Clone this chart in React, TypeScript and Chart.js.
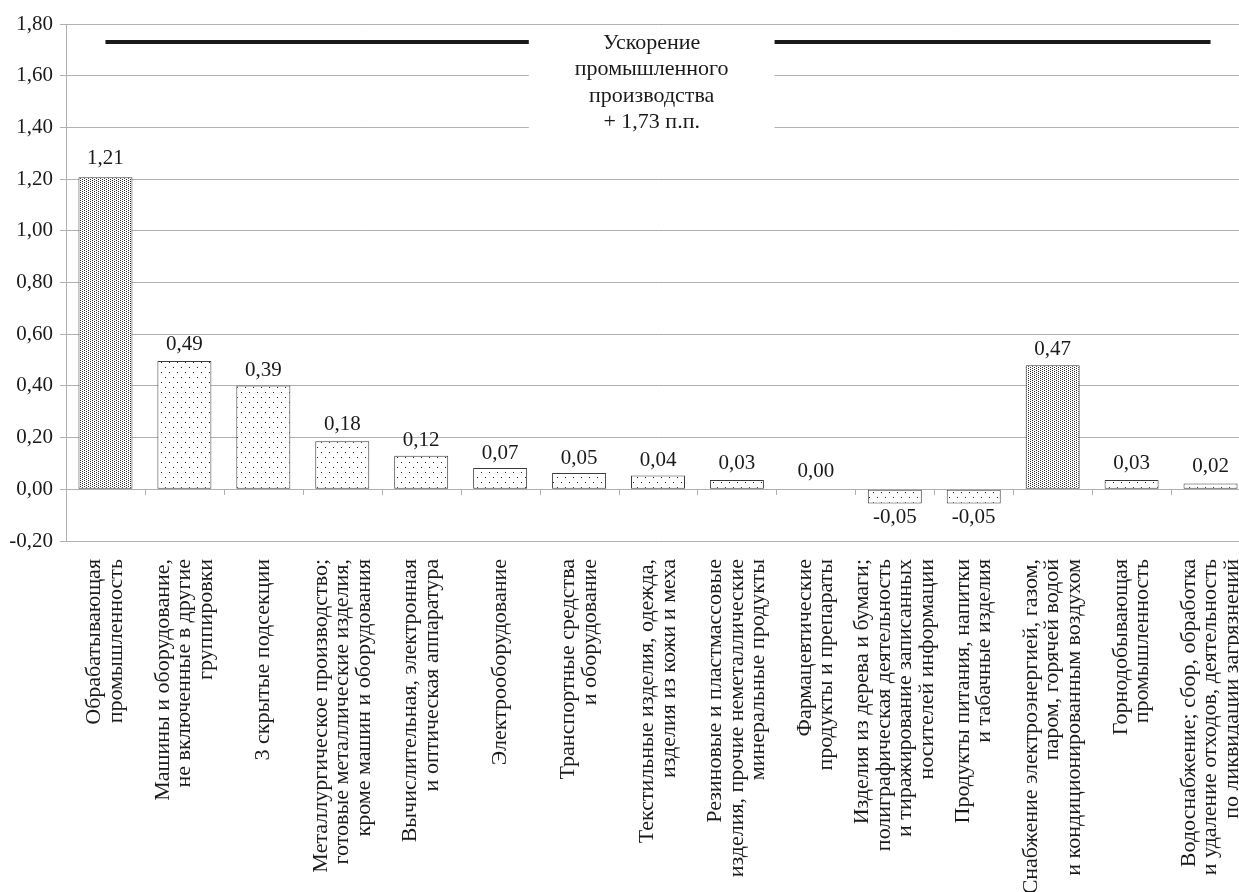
import React, { useEffect, useRef } from "react";
import { Chart, registerables } from "chart.js";

Chart.register(...registerables);

// ---------- data ----------
const categories: string[][] = [
  ["Обрабатывающая", "промышленность"],
  ["Машины и оборудование,", "не включенные в другие", "группировки"],
  ["3 скрытые подсекции"],
  ["Металлургическое производство;", "готовые металлические изделия,", "кроме машин и оборудования"],
  ["Вычислительная, электронная", "и оптическая аппаратура"],
  ["Электрооборудование"],
  ["Транспортные средства", "и оборудование"],
  ["Текстильные изделия, одежда,", "изделия из кожи и меха"],
  ["Резиновые и пластмассовые", "изделия, прочие неметаллические", "минеральные продукты"],
  ["Фармацевтические", "продукты и препараты"],
  ["Изделия из дерева и бумаги;", "полиграфическая деятельность", "и тиражирование записанных", "носителей информации"],
  ["Продукты питания, напитки", "и табачные изделия"],
  ["Снабжение электроэнергией, газом,", "паром, горячей водой", "и кондиционированным воздухом"],
  ["Горнодобывающая", "промышленность"],
  ["Водоснабжение; сбор, обработка", "и удаление отходов, деятельность", "по ликвидации загрязнений"],
];

// bar heights
const values: number[] = [1.207, 0.496, 0.402, 0.186, 0.13, 0.082, 0.063, 0.053, 0.036, 0.0, -0.055, -0.055, 0.48, 0.036, 0.022];

// printed value labels
const valueLabels: string[] = ["1,21", "0,49", "0,39", "0,18", "0,12", "0,07", "0,05", "0,04", "0,03", "0,00", "-0,05", "-0,05", "0,47", "0,03", "0,02"];

// section totals (dense pattern) vs sub-sections (sparse pattern)
const sectionIndices: number[] = [0, 12];

const yMin = -0.2;
const yMax = 1.8;
const yStep = 0.2;

const accelerationValue = 1.73;
const accelerationText: string[] = ["Ускорение", "промышленного", "производства", "+ 1,73 п.п."];
const accelerationCenterIndex = 6.92;

// ---------- styling ----------
const FONT = '"Liberation Serif", "Times New Roman", serif';
const TEXT_COLOR = "#1a1a1a";
const GRID_COLOR = "#b0b0b0";
const CANVAS_W = 1250;
const CANVAS_H = 892;

function makePattern(kind: "dense" | "sparse"): CanvasPattern | string {
  const c = document.createElement("canvas");
  const ctx = c.getContext("2d");
  if (!ctx) return "#fff";
  if (kind === "dense") {
    c.width = 4;
    c.height = 2;
    ctx.fillStyle = "#ffffff";
    ctx.fillRect(0, 0, 4, 2);
    ctx.fillStyle = "#2a2a2a";
    ctx.fillRect(0, 0, 1, 1);
    ctx.fillRect(2, 1, 1, 1);
  } else {
    c.width = 8;
    c.height = 10;
    ctx.fillStyle = "#ffffff";
    ctx.fillRect(0, 0, 8, 10);
    ctx.fillStyle = "#1a1a1a";
    ctx.fillRect(1, 2, 1, 1);
    ctx.fillRect(5, 7, 1, 1);
  }
  const p = ctx.createPattern(c, "repeat");
  return p || "#fff";
}

function parseLabel(s: string): number {
  return parseFloat(s.replace(",", "."));
}

const overlayPlugin = {
  id: "overlay",
  afterDatasetsDraw(chart: any) {
    const ctx: CanvasRenderingContext2D = chart.ctx;
    const x = chart.scales.x;
    const y = chart.scales.y;
    const area = chart.chartArea;
    const zeroY = y.getPixelForValue(0);

    ctx.save();
    // small category tick marks on the zero line
    ctx.strokeStyle = GRID_COLOR;
    ctx.lineWidth = 1;
    for (let k = 1; k < categories.length; k++) {
      const bx = Math.round((x.getPixelForValue(k - 1) + x.getPixelForValue(k)) / 2) + 0.5;
      ctx.beginPath();
      ctx.moveTo(bx, Math.round(zeroY) + 0.5);
      ctx.lineTo(bx, Math.round(zeroY) + 6);
      ctx.stroke();
    }

    // annotation box
    ctx.font = `22px ${FONT}`;
    const lineY = y.getPixelForValue(accelerationValue);
    const cx = x.getPixelForValue(accelerationCenterIndex);
    let maxW = 0;
    accelerationText.forEach((t) => (maxW = Math.max(maxW, ctx.measureText(t).width)));
    const boxW = maxW + 92;
    const lh = 26.5;
    const top = lineY - 12;
    const boxH = accelerationText.length * lh + 20;
    ctx.fillStyle = "#ffffff";
    ctx.fillRect(cx - boxW / 2, top, boxW, boxH);
    ctx.fillStyle = TEXT_COLOR;
    ctx.textAlign = "center";
    ctx.textBaseline = "middle";
    accelerationText.forEach((t, j) => ctx.fillText(t, cx, top + 13 + j * lh));

    // value labels
    ctx.font = `21px ${FONT}`;
    valueLabels.forEach((lbl, i) => {
      const v = parseLabel(lbl);
      const px = x.getPixelForValue(i);
      const py = y.getPixelForValue(v);
      ctx.fillText(lbl, px, v < 0 ? py + 15 : py - 18);
    });

    // rotated category labels
    ctx.font = `22px ${FONT}`;
    const LH = 21.5;
    ctx.textAlign = "right";
    ctx.textBaseline = "middle";
    categories.forEach((lines, i) => {
      const px = x.getPixelForValue(i);
      const y0 = area.bottom + 18;
      lines.forEach((ln, j) => {
        const off = (j - (lines.length - 1) / 2) * LH;
        ctx.save();
        ctx.translate(px + off, y0);
        ctx.rotate(-Math.PI / 2);
        ctx.fillText(ln, 0, 0);
        ctx.restore();
      });
    });
    ctx.restore();
  },
};

export default function App() {
  const ref = useRef<HTMLCanvasElement | null>(null);

  useEffect(() => {
    if (!ref.current) return;
    const dense = makePattern("dense");
    const sparse = makePattern("sparse");
    const bg = values.map((_, i) => (sectionIndices.includes(i) ? dense : sparse));

    const chart = new Chart(ref.current, {
      type: "bar",
      data: {
        labels: categories.map((c) => c.join(" ")),
        datasets: [
          {
            type: "line" as any,
            data: categories.map(() => accelerationValue),
            borderColor: "#1a1a1a",
            borderWidth: 4,
            pointRadius: 0,
            borderCapStyle: "butt",
            fill: false,
          } as any,
          {
            type: "bar",
            data: values,
            backgroundColor: bg as any,
            borderColor: "#3a3a3a",
            borderWidth: 1,
            borderSkipped: false,
            barPercentage: 0.684,
            categoryPercentage: 1,
          } as any,
        ],
      },
      options: {
        responsive: false,
        animation: false,
        devicePixelRatio: 1,
        layout: { padding: { top: 24, bottom: CANVAS_H - 541, left: 0, right: 0 } },
        plugins: {
          legend: { display: false },
          tooltip: { enabled: false },
        },
        scales: {
          x: {
            display: false,
            offset: true,
          },
          y: {
            min: yMin,
            max: yMax,
            afterFit: (s: any) => {
              s.width = 66;
            },
            ticks: {
              stepSize: yStep,
              color: TEXT_COLOR,
              padding: 7,
              font: { family: FONT, size: 21 },
              callback: (v: any) => {
                const n = Math.abs(Number(v)) < 1e-9 ? 0 : Number(v);
                return n.toFixed(2).replace(".", ",");
              },
            },
            grid: {
              color: GRID_COLOR,
              lineWidth: 1,
              tickLength: 6,
              drawTicks: true,
            },
            border: { display: true, color: GRID_COLOR, width: 1 },
          },
        },
      },
      plugins: [overlayPlugin],
    });
    return () => chart.destroy();
  }, []);

  return (
    <div
      style={{
        position: "fixed",
        left: 0,
        top: 0,
        width: 1239,
        height: 892,
        overflow: "hidden",
        background: "#fff",
      }}
    >
      <canvas
        ref={ref}
        width={CANVAS_W}
        height={CANVAS_H}
        style={{ display: "block", width: CANVAS_W, height: CANVAS_H }}
      />
    </div>
  );
}
